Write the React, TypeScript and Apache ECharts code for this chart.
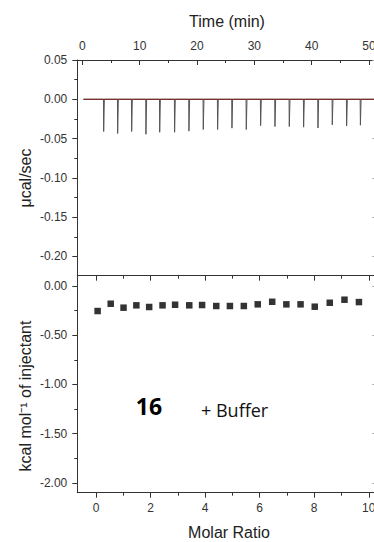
import React, { useEffect, useRef } from "react";
import * as echarts from "echarts";

// ---- data ----
const injectionTimes = [3.73, 6.17, 8.61, 11.1, 13.5, 16.1, 18.6, 21.1, 23.6, 26.1, 28.6, 31.1, 33.6, 36.1, 38.6, 41.1, 43.6, 46.1, 48.5];
const injectionPeaks = [-0.041, -0.0435, -0.041, -0.0445, -0.042, -0.042, -0.0405, -0.0385, -0.0385, -0.0367, -0.0385, -0.0335, -0.0347, -0.0347, -0.0355, -0.0365, -0.0325, -0.0338, -0.033];
const baselineStart = 0.2;
const baselineEnd = 52;

const molarRatio = [0.06, 0.54, 1.01, 1.48, 1.95, 2.44, 2.9, 3.42, 3.89, 4.41, 4.91, 5.42, 5.93, 6.46, 6.98, 7.5, 8.02, 8.57, 9.11, 9.64];
const heatPerMol = [-0.254, -0.18, -0.22, -0.196, -0.213, -0.196, -0.19, -0.196, -0.193, -0.203, -0.203, -0.203, -0.186, -0.16, -0.186, -0.186, -0.21, -0.17, -0.139, -0.163];

const timeTicks = [0, 10, 20, 30, 40, 50];
const timeMinorTicks = [5, 15, 25, 35, 45];
const powerTicks = [0.05, 0, -0.05, -0.1, -0.15, -0.2];
const powerMinorTicks = [0.025, -0.025, -0.075, -0.125, -0.175];
const ratioTicks = [0, 2, 4, 6, 8, 10];
const ratioMinorTicks = [1, 3, 5, 7, 9];
const heatTicks = [0, -0.5, -1, -1.5, -2];
const heatMinorTicks = [-0.25, -0.75, -1.25, -1.75];

const AXIS = "#333";
const FONT = "Liberation Sans, Arial, sans-serif";

function buildTrace(): number[][] {
  const pts: number[][] = [[baselineStart, 0]];
  injectionTimes.forEach((t, i) => {
    pts.push([t - 0.04, 0]);
    pts.push([t, injectionPeaks[i]]);
    pts.push([t + 0.12, 0]);
  });
  pts.push([baselineEnd, 0]);
  return pts;
}

const labelStyle = { fontSize: 12, color: "#333", fontFamily: FONT };

function mainAxis(opts: any) {
  return {
    type: "value",
    splitLine: { show: false },
    axisLine: { show: true, onZero: false, lineStyle: { color: AXIS, width: 1 } },
    ...opts,
  };
}

function tickOnly(opts: any) {
  return {
    type: "value",
    splitLine: { show: false },
    axisLine: { show: false, onZero: false },
    axisLabel: { show: false },
    ...opts,
  };
}

export default function App() {
  const ref = useRef<HTMLDivElement>(null);
  useEffect(() => {
    if (!ref.current) return;
    const chart = echarts.init(ref.current, undefined, { renderer: "svg" });
    const W = 300;
    // ranges chosen so that the tick positions match the reference
    const T = { min: -0.87, max: -0.87 + (51.97 * W) / 298 };
    const P = { min: -0.2245, max: 0.05 };
    const R = { min: -0.685, max: -0.685 + (10.925 * W) / 298 };
    const H = { min: -2.1, max: 0.105 };
    const fmt = (v: number) => v.toFixed(2);
    chart.setOption({
      animation: false,
      grid: [
        { left: 77.3, top: 60, width: W, height: 215.7 },
        { left: 77.3, top: 275.7, width: W, height: 217 },
      ],
      xAxis: [
        mainAxis({
          gridIndex: 0, position: "top", ...T,
          axisTick: { inside: true, length: 5, customValues: timeTicks, lineStyle: { color: AXIS } },
          axisLabel: { ...labelStyle, margin: 8, customValues: timeTicks },
        }),
        tickOnly({
          gridIndex: 0, position: "top", ...T,
          axisTick: { inside: true, length: 3, customValues: timeMinorTicks, lineStyle: { color: AXIS } },
        }),
        mainAxis({
          gridIndex: 1, position: "bottom", ...R,
          axisTick: { inside: false, length: 5, customValues: ratioTicks, lineStyle: { color: AXIS } },
          axisLabel: { ...labelStyle, margin: 9, customValues: ratioTicks },
        }),
        tickOnly({
          gridIndex: 1, position: "bottom", ...R,
          axisTick: { inside: false, length: 3, customValues: ratioMinorTicks, lineStyle: { color: AXIS } },
        }),
        mainAxis({
          gridIndex: 1, position: "top", ...R,
          axisTick: { inside: true, length: 5, customValues: ratioTicks, lineStyle: { color: AXIS } },
          axisLabel: { show: false },
        }),
        tickOnly({
          gridIndex: 1, position: "top", ...R,
          axisTick: { inside: true, length: 3, customValues: ratioMinorTicks, lineStyle: { color: AXIS } },
        }),
      ],
      yAxis: [
        mainAxis({
          gridIndex: 0, position: "left", ...P,
          axisTick: { inside: false, length: 5, customValues: powerTicks, lineStyle: { color: AXIS } },
          axisLabel: { ...labelStyle, margin: 10, customValues: powerTicks, formatter: fmt },
        }),
        tickOnly({
          gridIndex: 0, position: "left", ...P,
          axisTick: { inside: false, length: 3, customValues: powerMinorTicks, lineStyle: { color: AXIS } },
        }),
        mainAxis({
          gridIndex: 0, position: "right", ...P,
          axisTick: { inside: true, length: 5, customValues: powerTicks, lineStyle: { color: "#aaa" } },
          axisLabel: { show: false },
        }),
        mainAxis({
          gridIndex: 1, position: "left", ...H,
          axisTick: { inside: false, length: 5, customValues: heatTicks, lineStyle: { color: AXIS } },
          axisLabel: { ...labelStyle, margin: 10, customValues: heatTicks, formatter: fmt },
        }),
        tickOnly({
          gridIndex: 1, position: "left", ...H,
          axisTick: { inside: false, length: 3, customValues: heatMinorTicks, lineStyle: { color: AXIS } },
        }),
        mainAxis({
          gridIndex: 1, position: "right", ...H,
          axisTick: { inside: true, length: 5, customValues: heatTicks, lineStyle: { color: "#aaa" } },
          axisLabel: { show: false },
        }),
      ],
      series: [
        {
          type: "line", xAxisIndex: 0, yAxisIndex: 0, symbol: "none",
          data: buildTrace(), lineStyle: { color: "#555", width: 1 }, silent: true,
        },
        {
          type: "line", xAxisIndex: 0, yAxisIndex: 0, symbol: "none",
          data: [[baselineStart, 0], [baselineEnd, 0]], lineStyle: { color: "#7a3030", width: 1.3 }, silent: true,
        },
        {
          type: "scatter", xAxisIndex: 2, yAxisIndex: 3, symbol: "rect", symbolSize: 6.5,
          data: molarRatio.map((x, i) => [x, heatPerMol[i]]), itemStyle: { color: "#000" },
        },
      ],
      graphic: [
        { type: "text", x: 227, y: 21, style: { text: "Time (min)", font: `16px ${FONT}`, fill: "#222", align: "center", verticalAlign: "middle" } },
        { type: "text", x: 229, y: 532, style: { text: "Molar Ratio", font: `16px ${FONT}`, fill: "#222", align: "center", verticalAlign: "middle" } },
        { type: "text", x: 25, y: 178, rotation: Math.PI / 2, style: { text: "μcal/sec", font: `16px ${FONT}`, fill: "#222", align: "center", verticalAlign: "middle" } },
        { type: "text", x: 25, y: 396, rotation: Math.PI / 2, style: { text: "kcal mol⁻¹ of injectant", font: `16px ${FONT}`, fill: "#222", align: "center", verticalAlign: "middle" } },
        { type: "text", x: 149, y: 406, style: { text: "16", font: `bold 23px "Open Sans", sans-serif`, fill: "#000", align: "center", verticalAlign: "middle" } },
        { type: "text", x: 201, y: 410, style: { text: "+ Buffer", font: `18px "Open Sans", sans-serif`, fill: "#111", align: "left", verticalAlign: "middle" } },
      ],
    });
    return () => chart.dispose();
  }, []);
  return (
    <div style={{ position: "absolute", left: 0, top: 0, width: 374, height: 542, overflow: "hidden", background: "#fff" }}>
      <div ref={ref} style={{ width: 392, height: 542 }} />
    </div>
  );
}
